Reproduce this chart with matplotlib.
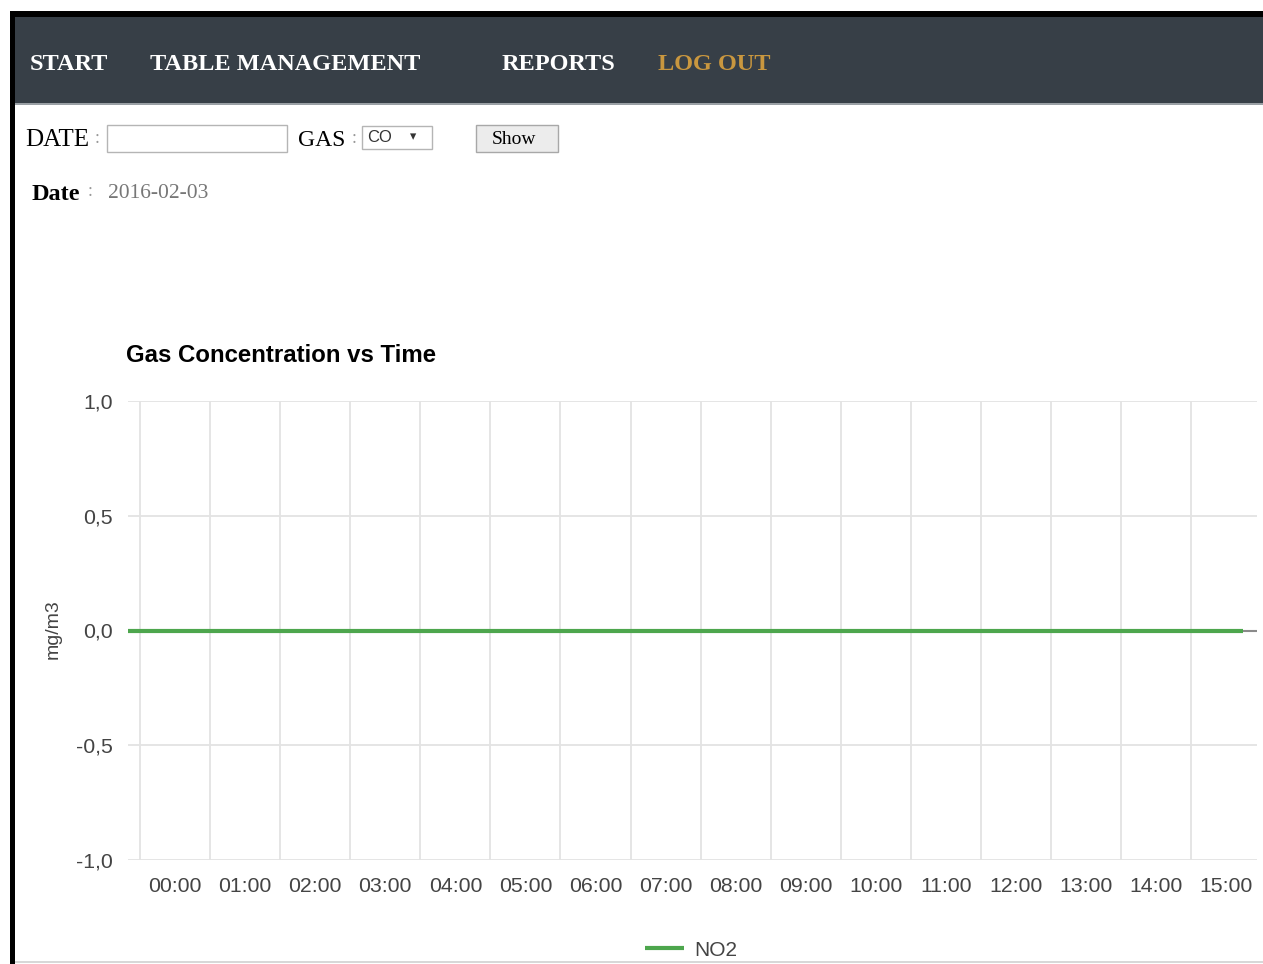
import matplotlib.pyplot as plt
from matplotlib.patches import Rectangle

# data
hour_labels = ['00:00', '01:00', '02:00', '03:00', '04:00', '05:00', '06:00', '07:00',
               '08:00', '09:00', '10:00', '11:00', '12:00', '13:00', '14:00', '15:00']
sample_hours = [-0.67, 0, 1, 2, 3, 4, 5, 6, 7, 8, 9, 10, 11, 12, 13, 14, 15, 15.24]
no2_values = [0.0, 0.0, 0.0, 0.0, 0.0, 0.0, 0.0, 0.0, 0.0,
              0.0, 0.0, 0.0, 0.0, 0.0, 0.0, 0.0, 0.0, 0.0]
y_ticks = [-1.0, -0.5, 0.0, 0.5, 1.0]
y_tick_labels = ['-1,0', '-0,5', '0,0', '0,5', '1,0']
nav_items = ['START', 'TABLE MANAGEMENT', 'REPORTS', 'LOG OUT']
selected_date = '2016-02-03'

W, H = 1263, 964
fig = plt.figure(figsize=(W / 100, H / 100), dpi=100)
fig.patch.set_facecolor('white')


def fx(x):
    return x / W


def fy(y):
    return 1 - y / H


def box(x0, y0, x1, y1, **kw):
    fig.patches.append(Rectangle((fx(x0), fy(y1)), fx(x1 - x0), (y1 - y0) / H,
                                 transform=fig.transFigure, **kw))


# page frame + nav bar
box(10, 11, 1263, 17, facecolor='black', edgecolor='none')
box(10, 11, 15, 964, facecolor='black', edgecolor='none')
box(15, 17, 1263, 103, facecolor='#373f47', edgecolor='none')
box(15, 103, 1263, 105, facecolor='#9aa0a5', edgecolor='none')
box(15, 961, 1263, 963, facecolor='#d8d8d8', edgecolor='none')

serif = 'Liberation Serif'
nav_x = [30, 150, 502, 658]
nav_col = ['white', 'white', 'white', '#c9973f']
for name, x, c in zip(nav_items, nav_x, nav_col):
    fig.text(fx(x), fy(65), name, color=c, fontsize=17.5, fontweight='bold',
             family=serif, va='center')

# form row
fig.text(fx(25), fy(140), 'DATE', fontsize=18, family=serif, va='center')
fig.text(fx(95), fy(139), ':', fontsize=13, family=serif, va='center', color='#999999')
box(107, 125, 287, 152, facecolor='white', edgecolor='#b5b5b5', linewidth=1)
fig.text(fx(298), fy(140), 'GAS', fontsize=17, family=serif, va='center')
fig.text(fx(352), fy(139), ':', fontsize=13, family=serif, va='center', color='#999999')
box(362, 126, 432, 149, facecolor='white', edgecolor='#b5b5b5', linewidth=1)
fig.text(fx(367), fy(138), 'CO', fontsize=12, family='Liberation Sans', va='center', color='#333333')
fig.text(fx(410), fy(137), '\u25be', fontsize=9, family='DejaVu Sans', va='center', color='#333333')
box(476, 125, 558, 152, facecolor='#ececec', edgecolor='#a8a8a8', linewidth=1)
fig.text(fx(514), fy(140), 'Show', fontsize=14, family=serif, va='center', ha='center')

fig.text(fx(32), fy(195), 'Date', fontsize=17.5, family=serif, fontweight='bold', va='center')
fig.text(fx(88), fy(192), ':', fontsize=13, family=serif, va='center', color='#999999')
fig.text(fx(108), fy(194), selected_date, fontsize=15.5, family=serif, va='center', color='#777777')

# chart
sans = 'Liberation Sans'
fig.text(fx(126), fy(356), 'Gas Concentration vs Time', fontsize=17.3, fontweight='bold',
         family=sans, va='center')

ax = fig.add_axes([fx(128), fy(860), fx(1257 - 128), (860 - 401) / H])
ax.set_xlim(-0.671, 15.44)
ax.set_ylim(-1.0, 1.0)
for s in ax.spines.values():
    s.set_visible(False)
ax.set_yticks(y_ticks)
ax.set_yticklabels(y_tick_labels)
ax.set_xticks(range(len(hour_labels)))
ax.set_xticklabels(hour_labels)
ax.tick_params(length=0, labelsize=15.3, labelcolor='#444444')
ax.tick_params(axis='y', pad=11)
ax.tick_params(axis='x', pad=12)
for t in ax.get_xticklabels() + ax.get_yticklabels():
    t.set_family(sans)

# grid
for h in range(len(hour_labels)):
    ax.axvline(h - 0.5, color='#e3e3e3', linewidth=1.3, zorder=1)
for v in y_ticks:
    if v != 0:
        ax.axhline(v, color='#e3e3e3', linewidth=1.3, zorder=1)
ax.axhline(0, color='#8a8a8a', linewidth=1.5, zorder=2)

line, = ax.plot(sample_hours, no2_values, color='#4da64d', linewidth=3, zorder=3,
                solid_capstyle='butt', label='NO2')

fig.text(fx(53), fy(629), 'mg/m3', rotation=90, fontsize=14, family=sans,
         color='#444444', va='center', ha='center')

leg = fig.legend(handles=[line], loc='center', bbox_to_anchor=(fx(691), fy(950)),
                 frameon=False, prop={'family': sans, 'size': 15},
                 handlelength=1.9, handletextpad=0.5)
for t in leg.get_texts():
    t.set_color('#444444')

fig.savefig('out.png', dpi=100)
